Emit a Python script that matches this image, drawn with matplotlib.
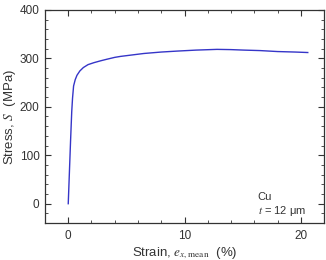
import matplotlib
matplotlib.use("Agg")
import matplotlib.pyplot as plt
from matplotlib.ticker import MultipleLocator

strain = [0.0, 0.1, 0.2, 0.3, 0.37, 0.46, 0.6, 0.75, 1.0, 1.3, 1.7, 2.2, 2.8, 3.3, 4.0, 4.5, 5.5, 6.5, 8.0, 9.4, 11.0, 12.2, 12.8, 14.0, 15.1, 16.5, 18.0, 19.5, 20.6]
stress = [0, 65, 130, 190, 218, 243, 256, 265, 274, 281, 287, 291, 295, 298, 302, 304, 307, 310, 313, 315, 317, 318, 318.5, 318, 317, 316, 314, 313, 312]

xticks_major = [0, 10, 20]
yticks_major = [0, 100, 200, 300, 400]

plt.rcParams['font.family'] = ['Liberation Sans', 'DejaVu Sans']
plt.rcParams['mathtext.fontset'] = 'stix'

fig = plt.figure(figsize=(3.26, 2.60), dpi=100)
ax = fig.add_axes([0.138, 0.142, 0.856, 0.82])
ax.plot(strain, stress, color='#3535c8', lw=1.0)

ax.set_xlim(-2, 22)
ax.set_ylim(-40, 400)
ax.set_xticks(xticks_major)
ax.set_yticks(yticks_major)
ax.xaxis.set_minor_locator(MultipleLocator(2))
ax.yaxis.set_minor_locator(MultipleLocator(20))
ax.tick_params(which='both', direction='in', top=True, right=True, colors='#333333', labelsize=8.5, pad=4)
ax.tick_params(axis='x', which='both', pad=5)
ax.tick_params(which='major', length=4, width=0.8)
ax.tick_params(which='minor', length=2, width=0.6)
for s in ax.spines.values():
    s.set_color('#333333')
    s.set_linewidth(0.9)

ax.set_ylabel(r'Stress, $S$  (MPa)', fontsize=9.5, color='#333333', labelpad=1)
ax.set_xlabel(r'Strain, $e_{x,\mathrm{mean}}$  (%)', fontsize=9.5, color='#333333', labelpad=2)

ax.text(16.3, 13, 'Cu', fontsize=8, color='#333333', va='center', ha='left')
ax.text(16.3, -16, r'$t$ = 12 μm', fontsize=8, color='#333333', va='center', ha='left')

fig.savefig('out.png', dpi=100)
